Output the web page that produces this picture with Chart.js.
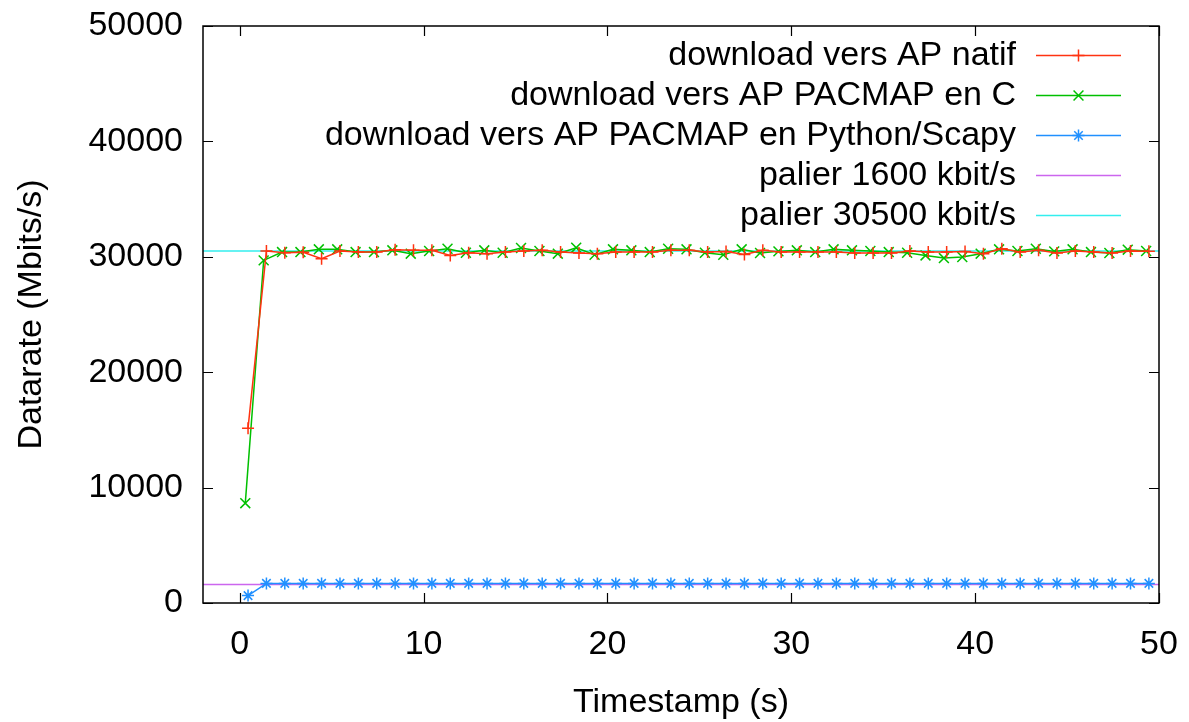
<!DOCTYPE html>
<html>
<head>
<meta charset="utf-8">
<script src="https://cdn.jsdelivr.net/npm/chart.js@4/dist/chart.umd.min.js"></script>
<style>
  html, body { margin: 0; padding: 0; background: #fff; }
  #wrap { width: 1189px; height: 722px; }
</style>
</head>
<body>
<div id="wrap"><canvas id="myChart" width="1189" height="722"></canvas></div>
<script>
// timestamps (s)
const tNatif = [0.45, 1.45, 2.45, 3.45, 4.45, 5.45, 6.45, 7.45, 8.45, 9.45, 10.45, 11.45, 12.45, 13.45, 14.45, 15.45, 16.45, 17.45, 18.45, 19.45, 20.45, 21.45, 22.45, 23.45, 24.45, 25.45, 26.45, 27.45, 28.45, 29.45, 30.45, 31.45, 32.45, 33.45, 34.45, 35.45, 36.45, 37.45, 38.45, 39.45, 40.45, 41.45, 42.45, 43.45, 44.45, 45.45, 46.45, 47.45, 48.45, 49.45];
const tPacmapC = [0.3, 1.3, 2.3, 3.3, 4.3, 5.3, 6.3, 7.3, 8.3, 9.3, 10.3, 11.3, 12.3, 13.3, 14.3, 15.3, 16.3, 17.3, 18.3, 19.3, 20.3, 21.3, 22.3, 23.3, 24.3, 25.3, 26.3, 27.3, 28.3, 29.3, 30.3, 31.3, 32.3, 33.3, 34.3, 35.3, 36.3, 37.3, 38.3, 39.3, 40.3, 41.3, 42.3, 43.3, 44.3, 45.3, 46.3, 47.3, 48.3, 49.3];
const tPython = [0.45, 1.45, 2.45, 3.45, 4.45, 5.45, 6.45, 7.45, 8.45, 9.45, 10.45, 11.45, 12.45, 13.45, 14.45, 15.45, 16.45, 17.45, 18.45, 19.45, 20.45, 21.45, 22.45, 23.45, 24.45, 25.45, 26.45, 27.45, 28.45, 29.45, 30.45, 31.45, 32.45, 33.45, 34.45, 35.45, 36.45, 37.45, 38.45, 39.45, 40.45, 41.45, 42.45, 43.45, 44.45, 45.45, 46.45, 47.45, 48.45, 49.45];

// datarate values
const natif = [15150, 30500, 30350, 30400, 29830, 30500, 30420, 30420, 30620, 30560, 30560, 30120, 30350, 30270, 30420, 30500, 30560, 30420, 30330, 30270, 30420, 30420, 30420, 30560, 30560, 30420, 30450, 30210, 30560, 30420, 30420, 30420, 30420, 30330, 30330, 30330, 30500, 30420, 30420, 30450, 30270, 30700, 30420, 30560, 30330, 30500, 30420, 30330, 30500, 30480];
const pacmapC = [8650, 29690, 30410, 30410, 30650, 30650, 30410, 30410, 30560, 30270, 30500, 30700, 30350, 30560, 30350, 30760, 30500, 30270, 30790, 30180, 30650, 30560, 30410, 30700, 30650, 30350, 30180, 30650, 30330, 30470, 30560, 30410, 30650, 30560, 30500, 30410, 30350, 30120, 29890, 29980, 30270, 30650, 30500, 30700, 30470, 30650, 30410, 30330, 30620, 30500];
const python = [640, 1700, 1700, 1700, 1700, 1700, 1700, 1700, 1690, 1700, 1700, 1700, 1700, 1700, 1700, 1700, 1700, 1700, 1700, 1700, 1700, 1700, 1700, 1700, 1700, 1700, 1700, 1700, 1700, 1700, 1700, 1700, 1700, 1700, 1700, 1700, 1700, 1700, 1700, 1700, 1700, 1700, 1700, 1700, 1700, 1700, 1700, 1700, 1700, 1700];

// horizontal levels
const palierX = [-2, 50];
const palier1600 = [1600, 1600];
const palier30500 = [30500, 30500];

const xTicks = [0, 10, 20, 30, 40, 50];
const yTicks = [0, 10000, 20000, 30000, 40000, 50000];

const labels = [
  'download vers AP natif',
  'download vers AP PACMAP en C',
  'download vers AP PACMAP en Python/Scapy',
  'palier 1600 kbit/s',
  'palier 30500 kbit/s'
];

const FONT = 'Liberation Sans, Arial, Helvetica, sans-serif';
const FSIZE = 34;

const pts = (xs, ys) => xs.map((x, i) => ({ x: x, y: ys[i] }));

// frame, inward ticks, axis titles and gnuplot-style key
const gnuplotFrame = {
  id: 'gnuplotFrame',
  afterDraw(chart) {
    const ctx = chart.ctx;
    const a = chart.chartArea;
    const xs = chart.scales.x, ys = chart.scales.y;
    ctx.save();
    ctx.strokeStyle = '#000';
    ctx.lineWidth = 1.5;
    ctx.strokeRect(a.left, a.top, a.right - a.left, a.bottom - a.top);
    ctx.lineWidth = 1.2;
    ctx.beginPath();
    xTicks.forEach(v => {
      const px = Math.round(xs.getPixelForValue(v)) + 0.5;
      ctx.moveTo(px, a.bottom); ctx.lineTo(px, a.bottom - 10);
      ctx.moveTo(px, a.top); ctx.lineTo(px, a.top + 10);
    });
    yTicks.forEach(v => {
      const py = Math.round(ys.getPixelForValue(v)) + 0.5;
      ctx.moveTo(a.left, py); ctx.lineTo(a.left + 10, py);
      ctx.moveTo(a.right, py); ctx.lineTo(a.right - 10, py);
    });
    ctx.stroke();

    // axis titles
    ctx.fillStyle = '#000';
    ctx.font = FSIZE + 'px ' + FONT;
    ctx.textAlign = 'center';
    ctx.textBaseline = 'alphabetic';
    ctx.fillText('Timestamp (s)', (a.left + a.right) / 2, 712);
    ctx.save();
    ctx.translate(41, (a.top + a.bottom) / 2);
    ctx.rotate(-Math.PI / 2);
    ctx.fillText('Datarate (Mbits/s)', 0, 0);
    ctx.restore();

    // key
    ctx.textAlign = 'right';
    ctx.textBaseline = 'middle';
    chart.data.datasets.forEach((ds, i) => {
      const y = 55 + i * 40;
      ctx.fillStyle = '#000';
      ctx.fillText(labels[i], 1016, y + 1);
      ctx.strokeStyle = ds.borderColor;
      ctx.lineWidth = 1.5;
      ctx.beginPath();
      ctx.moveTo(1036, y + 0.5); ctx.lineTo(1121, y + 0.5);
      ctx.stroke();
      if (ds.pointRadius > 0) {
        ctx.strokeStyle = ds.pointBorderColor;
        ctx.lineWidth = ds.pointBorderWidth;
        Chart.helpers.drawPoint(ctx, { pointStyle: ds.pointStyle, radius: ds.pointRadius, borderWidth: ds.pointBorderWidth, rotation: 0 }, 1078.5, y + 0.5);
      }
    });
    ctx.restore();
  }
};

const ctx = document.getElementById('myChart').getContext('2d');
const myChart = new Chart(ctx, {
  type: 'scatter',
  data: {
    datasets: [
      {
        label: labels[0], data: pts(tNatif, natif), showLine: true,
        borderColor: '#ff3311', borderWidth: 1.5,
        pointStyle: 'cross', pointRadius: 6, pointBorderWidth: 1.5,
        pointBorderColor: '#ff3311', pointBackgroundColor: '#ff3311'
      },
      {
        label: labels[1], data: pts(tPacmapC, pacmapC), showLine: true,
        borderColor: '#00c000', borderWidth: 1.5,
        pointStyle: 'crossRot', pointRadius: 7, pointBorderWidth: 1.5,
        pointBorderColor: '#00c000', pointBackgroundColor: '#00c000'
      },
      {
        label: labels[2], data: pts(tPython, python), showLine: true,
        borderColor: '#2090ff', borderWidth: 1.5,
        pointStyle: 'star', pointRadius: 6, pointBorderWidth: 1.5,
        pointBorderColor: '#2090ff', pointBackgroundColor: '#2090ff'
      },
      {
        label: labels[3], data: pts(palierX, palier1600), showLine: true,
        borderColor: '#cc66ee', borderWidth: 1.5, pointRadius: 0
      },
      {
        label: labels[4], data: pts(palierX, palier30500), showLine: true,
        borderColor: '#33eeee', borderWidth: 1.5, pointRadius: 0
      }
    ]
  },
  options: {
    responsive: false,
    animation: false,
    events: [],
    layout: { padding: { top: 26, right: 30, left: 0, bottom: 0 } },
    plugins: { legend: { display: false }, tooltip: { enabled: false } },
    scales: {
      x: {
        type: 'linear', min: -2, max: 50,
        grid: { display: false, drawTicks: false },
        border: { display: false },
        afterBuildTicks: s => { s.ticks = xTicks.map(v => ({ value: v })); },
        afterFit: s => { s.height = 119; s.paddingLeft = 0; s.paddingRight = 0; },
        ticks: { color: '#000', padding: 21, maxRotation: 0, font: { family: FONT, size: FSIZE } }
      },
      y: {
        type: 'linear', min: 0, max: 50000,
        grid: { display: false, drawTicks: false },
        border: { display: false },
        afterBuildTicks: s => { s.ticks = yTicks.map(v => ({ value: v })); },
        afterFit: s => { s.width = 203; s.paddingTop = 0; s.paddingBottom = 0; },
        ticks: { color: '#000', padding: 20, font: { family: FONT, size: FSIZE }, callback: v => String(v) }
      }
    }
  },
  plugins: [gnuplotFrame]
});
</script>
</body>
</html>
